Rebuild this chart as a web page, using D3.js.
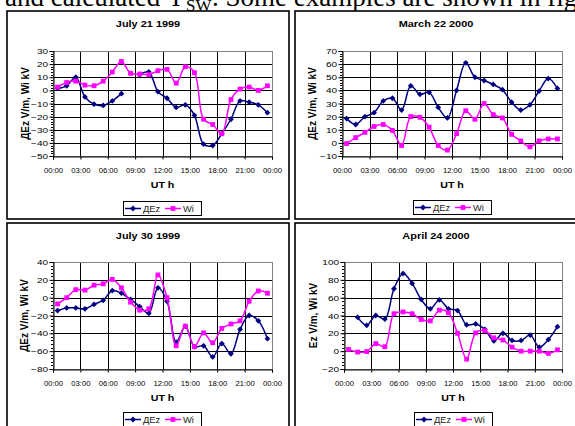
<!DOCTYPE html>
<html>
<head>
<meta charset="utf-8">
<script src="https://cdn.jsdelivr.net/npm/d3@7"></script>
<style>
  body { margin: 0; background: #fff; }
  svg { display: block; }
  text { font-family: "Liberation Sans", Arial, sans-serif; }
</style>
</head>
<body>
<svg width="575" height="426"></svg>
<script>
// half-hour sample times (UT hours)
const hours = [0.5, 1.5, 2.5, 3.5, 4.5, 5.5, 6.5, 7.5, 8.5, 9.5, 10.5, 11.5,
               12.5, 13.5, 14.5, 15.5, 16.5, 17.5, 18.5, 19.5, 20.5, 21.5, 22.5, 23.5];
const xTicks = [0, 3, 6, 9, 12, 15, 18, 21, 24];
const xTickLabels = ["00:00", "03:00", "06:00", "09:00", "12:00", "15:00", "18:00", "21:00", "00:00"];

const titles = ["July 21 1999", "March 22 2000", "July 30 1999", "April 24 2000"];
const yTitles = ["ДEz V/m, Wi kV", "ДEz V/m, Wi kV", "ДEz V/m, Wi kV", "Ez V/m, Wi kV"];
const seriesNames = ["ДEz", "Wi"];

const jul21Dez = [1.5, 3.5, 10, -5, -10.5, -11.5, -8, -2.5, null, 12, 14, -1,
                  -6, -13, -11, -19, -41, -42, -33, -22, -8, -9, -11, -17];
const jul21Wi  = [2.5, 6, 7, 4, 3.5, 7, 14, 22, 13, 12.5, 12, 15,
                  16, 5.5, 18, 13.5, -22, -26, -33, -7, 1, 2.5, 0, 3.5];

const mar22Dez = [18.5, 14, 20, 23, 32, 34, 25, 43.5, 37, 38.5, 27, 19,
                  40, 61, 50, 47.5, 44.5, 40.5, 31, 25, 29, 39.5, 49, 41.5];
const mar22Wi  = [-0.5, 4, 8, 12.5, 14, 9.5, -2, 20, 19.5, 12, -2, -5.5,
                  7, 24.5, 18, 30, 21.5, 19, 6.5, 1.5, -3, 1.5, 3, 3];

const jul30Dez = [-14.5, -11.5, -11.5, -12.5, -7.5, -3, 8, 5, -2, -10, -17.5, 11,
                  -4, -50, -32, -55, -54, -66.5, -51.5, -63, -35.5, -20, -26, -46];
const jul30Wi  = [-7, 0, 9, 8.5, 14, 15.5, 20.5, 11, -5, -14, -12.5, 25.5,
                  0, -54, -32, -55, -39.5, -50.5, -34.5, -29.5, -26, -4, 7.5, 5];

const apr24Dez = [null, 38, 29, 40, 36, 70, 87, 76, 58, 47.5, 57.5, 47.5,
                  45.5, 29.5, 30.5, 24.5, 11.5, 20, 12, 12, 18, 4.5, 13, 27.5];
const apr24Wi  = [2, -1, -0.5, 8.5, 5, 42, 44, 42, 35.5, 34, 46, 43,
                  20, -9, 20.5, 23, 15, 12.5, 4.5, 0, 0, 0, -2.5, 1.5];

const yDomains = [[-50, 30], [-10, 70], [-80, 40], [-20, 100]];
const ySteps = [10, 10, 20, 20];
const dezSets = [jul21Dez, mar22Dez, jul30Dez, apr24Dez];
const wiSets = [jul21Wi, mar22Wi, jul30Wi, apr24Wi];

// layout of the four Excel chart objects on the page
const frames = [
  {x: 7,   y: 11,  w: 282, h: 208, pl: 53,  pr: 272, pt: 51,  pb: 156, yt: 25,  lt: 201},
  {x: 295, y: 11,  w: 290, h: 208, pl: 342, pr: 562, pt: 51,  pb: 156, yt: 312, lt: 200},
  {x: 7,   y: 223, w: 282, h: 210, pl: 53,  pr: 272, pt: 262, pb: 369, yt: 24,  lt: 412},
  {x: 295, y: 223, w: 290, h: 210, pl: 344, pr: 562, pt: 262, pb: 369, yt: 313, lt: 412}
];

const navy = "#000080", magenta = "#ff00ff";

let svg = d3.select("svg");

// cropped line of the surrounding paper text
let serif = "'Liberation Serif', 'Times New Roman', serif";
let head = svg.append("g").style("font-family", serif);
head.append("text").attr("x", 5).attr("y", 6).style("font-family", serif)
	.style("font-size", "27px").text("and calculated");
head.append("text").attr("x", 166).attr("y", 6).style("font-family", serif)
	.style("font-size", "27px").text("Ψ");
head.append("text").attr("x", 186).attr("y", 11).style("font-family", serif)
	.style("font-size", "17px").text("SW");
head.append("text").attr("x", 212).attr("y", 6).style("font-family", serif)
	.style("font-size", "27px").text(". Some examples are shown in fig.");

let diamond = "M0,-2.9L2.9,0L0,2.9L-2.9,0Z";
let square = "M-2.4,-2.4H2.4V2.4H-2.4Z";

// text slightly widened like the stretched Word chart object
let wideText = (g, x, y, str, size, sx, anchor)=>{
	return g.append("text")
		.attr("transform", `translate(${x},${y}) scale(${sx},1)`)
		.attr("text-anchor", anchor || "middle")
		.style("font-size", size + "px")
		.style("font-weight", "bold")
		.attr("fill", "#000")
		.text(str);
};

frames.forEach((f, k)=>{
	let g = svg.append("g");

	g.append("rect")
		.attr("x", f.x).attr("y", f.y)
		.attr("width", f.w).attr("height", f.h)
		.attr("fill", "#fff")
		.attr("stroke", "#000")
		.attr("stroke-width", 1.6);

	let x = d3.scaleLinear().domain([0, 24]).range([f.pl, f.pr]);
	let y = d3.scaleLinear().domain(yDomains[k]).range([f.pb, f.pt]);
	let yTicks = d3.range(yDomains[k][0], yDomains[k][1] + 0.1, ySteps[k]);
	let yMinor = d3.range(yDomains[k][0], yDomains[k][1] + 0.1, ySteps[k] / 5);

	// grid
	g.append("g").selectAll("line").data(yTicks).enter().append("line")
		.attr("x1", f.pl).attr("x2", f.pr)
		.attr("y1", d=> Math.round(y(d)) + 0.5).attr("y2", d=> Math.round(y(d)) + 0.5)
		.attr("stroke", "#000").attr("stroke-width", 1);
	g.append("g").selectAll("line").data(xTicks).enter().append("line")
		.attr("x1", d=> Math.round(x(d)) + 0.5).attr("x2", d=> Math.round(x(d)) + 0.5)
		.attr("y1", f.pt).attr("y2", f.pb)
		.attr("stroke", "#000").attr("stroke-width", 1);

	// plot area border
	g.append("rect")
		.attr("x", f.pl + 0.5).attr("y", f.pt + 0.5)
		.attr("width", f.pr - f.pl).attr("height", f.pb - f.pt)
		.attr("fill", "none").attr("stroke", "#808080").attr("stroke-width", 1);

	// y axis with minor ticks
	let yAxis = d3.axisLeft(y).tickValues(yTicks).tickSize(4).tickFormat(d3.format("d"));
	let ya = g.append("g").attr("transform", `translate(${f.pl + 0.5},0)`).call(yAxis);
	ya.selectAll("line").attr("stroke", "#000");
	ya.select(".domain").attr("stroke", "#000");
	ya.selectAll("text")
		.attr("x", -4.4)
		.attr("transform", "scale(1.25,1)")
		.style("font-size", "8px").attr("fill", "#000");
	g.append("g").selectAll("line").data(yMinor).enter().append("line")
		.attr("x1", f.pl - 2).attr("x2", f.pl)
		.attr("y1", d=> Math.round(y(d)) + 0.5).attr("y2", d=> Math.round(y(d)) + 0.5)
		.attr("stroke", "#000");

	// x axis
	let xAxis = d3.axisBottom(x).tickValues(xTicks).tickSize(3).tickPadding(8)
		.tickFormat((d, i)=> xTickLabels[i]);
	let xa = g.append("g").attr("transform", `translate(0,${f.pb + 0.5})`).call(xAxis);
	xa.selectAll("line").attr("stroke", "#000");
	xa.select(".domain").attr("stroke", "#000");
	xa.selectAll("text").style("font-size", "7.7px").attr("fill", "#000");

	// titles
	wideText(g, f.x + 141, f.y + 16, titles[k], 9.5, 1.15);
	wideText(g, (f.pl + f.pr) / 2, f.pb + 32, "UT h", 9.5, 1.12);
	g.append("text")
		.attr("transform", `translate(${f.yt + 3.5},${(f.pt + f.pb) / 2}) rotate(-90)`)
		.attr("text-anchor", "middle")
		.style("font-size", "10px").style("font-weight", "bold")
		.text(yTitles[k]);

	// series
	let line = d3.line()
		.defined(d=> d[1] != null)
		.x(d=> x(d[0])).y(d=> y(d[1]))
		.curve(d3.curveCatmullRom.alpha(0.5));

	[[dezSets[k], navy, diamond], [wiSets[k], magenta, square]].forEach(s=>{
		let pts = hours.map((h, i)=> [h, s[0][i]]);
		g.append("path")
			.attr("d", line(pts))
			.attr("fill", "none")
			.attr("stroke", s[1])
			.attr("stroke-width", 1.5);
		g.append("g").selectAll("path")
			.data(pts.filter(d=> d[1] != null))
			.enter().append("path")
			.attr("d", s[2])
			.attr("transform", d=> `translate(${x(d[0])},${y(d[1])})`)
			.attr("fill", s[1]);
	});

	// legend
	let lx = Math.round((f.pl + f.pr) / 2 - 39.5), ly = f.lt;
	let lg = g.append("g").attr("transform", `translate(${lx},${ly})`);
	lg.append("rect")
		.attr("x", 0.5).attr("y", 0.5).attr("width", 78).attr("height", 14)
		.attr("fill", "#fff").attr("stroke", "#000");
	[[navy, diamond, seriesNames[0], 2], [magenta, square, seriesNames[1], 42]].forEach(e=>{
		lg.append("line")
			.attr("x1", e[3]).attr("x2", e[3] + 16)
			.attr("y1", 7.5).attr("y2", 7.5)
			.attr("stroke", e[0]).attr("stroke-width", 1.5);
		lg.append("path").attr("d", e[1])
			.attr("transform", `translate(${e[3] + 8},7.5)`)
			.attr("fill", e[0]);
		lg.append("text")
			.attr("transform", `translate(${e[3] + 18},10.8) scale(1.1,1)`)
			.style("font-size", "8.5px")
			.attr("fill", "#222")
			.text(e[2]);
	});
});
</script>
</body>
</html>
